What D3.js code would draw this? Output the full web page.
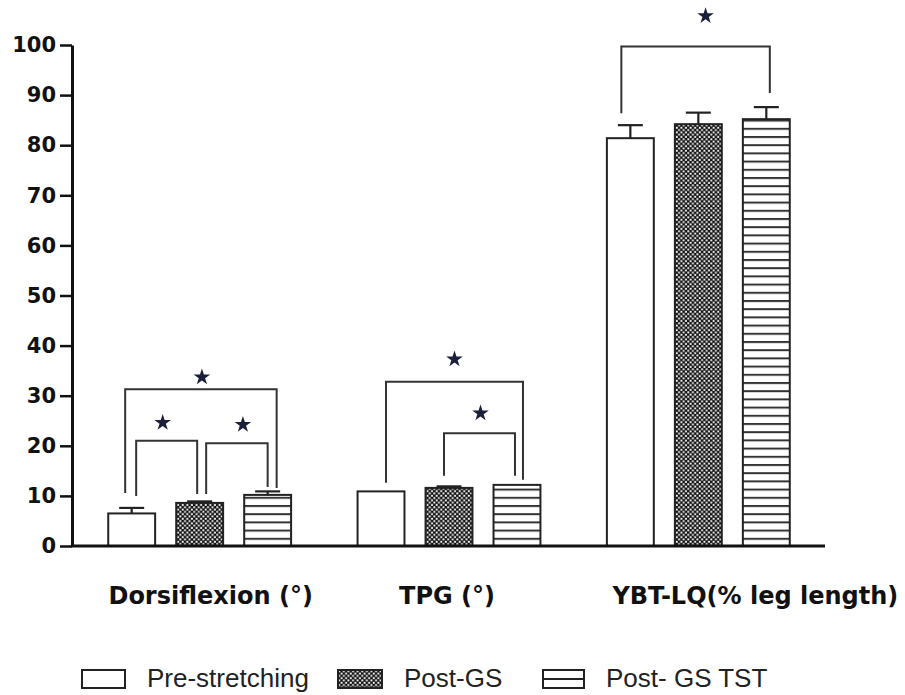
<!DOCTYPE html>
<html>
<head>
<meta charset="utf-8">
<script src="https://cdn.jsdelivr.net/npm/d3@7"></script>
<style>
  body { margin: 0; background: #fff; }
  svg { display: block; }
  .tick text { font-family: "DejaVu Sans", Verdana, sans-serif; font-weight: bold; font-size: 21px; fill: #111; }
  .glabel { font-family: "DejaVu Sans", Verdana, sans-serif; font-weight: bold; font-size: 24px; fill: #111; }
  .legend text { font-family: "Liberation Sans", Arial, sans-serif; font-size: 26px; fill: #222; }
</style>
</head>
<body>
<svg id="chart" width="905" height="695"></svg>
<script>
// values
var groups = ["Dorsiflexion (°)", "TPG (°)", "YBT-LQ(% leg length)"];
var series = ["Pre-stretching", "Post-GS", "Post- GS TST"];
var means = [
  [6.5, 8.6, 10.2],
  [10.9, 11.6, 12.2],
  [81.4, 84.2, 85.2]
];
var errs = [
  [1.1, 0.3, 0.7],
  [0, 0.3, 0],
  [2.6, 2.3, 2.4]
];
var yTicks = [0, 10, 20, 30, 40, 50, 60, 70, 80, 90, 100];

// significance brackets: group, from bar, to bar, top level, leg ends, star level
var brackets = [
  { g: 0, a: 0, b: 2, top: 31.3, endA: 10.6, endB: 11.6, star: 33.7 },
  { g: 0, a: 0, b: 1, top: 21.0, endA: 10.0, endB: 10.4, star: 24.6 },
  { g: 0, a: 1, b: 2, top: 20.5, endA: 10.4, endB: 11.8, star: 24.2 },
  { g: 1, a: 0, b: 2, top: 32.8, endA: 12.6, endB: 13.2, star: 37.3 },
  { g: 1, a: 1, b: 2, top: 22.5, endA: 14.0, endB: 14.0, star: 26.5 },
  { g: 2, a: 0, b: 2, top: 99.7, endA: 86.4, endB: 90.4, star: 105.8 }
];

// layout tweaks (px)
var bracketDx = [[-6.5, 9], [4.5, -2.5], [6.5, 0], [5, 6], [-5, -2], [-9, 3.5]];
var starDx = [1, -4, 6, 0, 1, 10];
var labelDx = [11, -2, 57];

var svg = d3.select("#chart");
var ink = "#222";

var y = d3.scaleLinear().domain([0, 100]).range([546, 45]);
var x0 = d3.scaleBand().domain(groups).range([75, 823]).paddingInner(0.0975).paddingOuter(0.04875);
var x1 = d3.scaleBand().domain(series).range([0, x0.bandwidth()]).padding(0.31);

// patterns
var defs = svg.append("defs");
var chk = defs.append("pattern").attr("id", "checker")
  .attr("patternUnits", "userSpaceOnUse").attr("width", 4.6).attr("height", 4.6);
chk.append("rect").attr("width", 4.6).attr("height", 4.6).attr("fill", "#111");
chk.append("rect").attr("x", 0.3).attr("y", 0.3).attr("width", 1.9).attr("height", 1.9).attr("fill", "#fff");
chk.append("rect").attr("x", 2.6).attr("y", 2.6).attr("width", 1.9).attr("height", 1.9).attr("fill", "#fff");

var hl = defs.append("pattern").attr("id", "hlines")
  .attr("patternUnits", "userSpaceOnUse").attr("width", 10).attr("height", 8.2).attr("y", 546);
hl.append("rect").attr("width", 10).attr("height", 8.2).attr("fill", "#fff");
hl.append("rect").attr("y", 0).attr("width", 10).attr("height", 2).attr("fill", "#333");

var fills = ["#fff", "url(#checker)", "url(#hlines)"];

// bars
var gGroups = svg.append("g").selectAll("g")
  .data(groups)
  .join("g")
    .attr("transform", d => `translate(${x0(d)},0)`);

gGroups.selectAll("rect")
  .data((d, gi) => series.map((s, si) => ({ s: s, si: si, v: means[gi][si], e: errs[gi][si] })))
  .join("rect")
    .attr("x", d => x1(d.s))
    .attr("y", d => y(d.v))
    .attr("width", x1.bandwidth())
    .attr("height", d => y(0) - y(d.v))
    .attr("fill", d => fills[d.si])
    .attr("stroke", ink)
    .attr("stroke-width", 2);

// error bars
var eb = gGroups.selectAll("g.err")
  .data((d, gi) => series.map((s, si) => ({ s: s, v: means[gi][si], e: errs[gi][si] })).filter(d => d.e > 0))
  .join("g").attr("class", "err")
    .attr("stroke", ink).attr("stroke-width", 2.2);
eb.append("line")
  .attr("x1", d => x1(d.s) + x1.bandwidth() / 2)
  .attr("x2", d => x1(d.s) + x1.bandwidth() / 2)
  .attr("y1", d => y(d.v))
  .attr("y2", d => y(d.v + d.e));
eb.append("line")
  .attr("x1", d => x1(d.s) + x1.bandwidth() / 2 - 12.5)
  .attr("x2", d => x1(d.s) + x1.bandwidth() / 2 + 12.5)
  .attr("y1", d => y(d.v + d.e))
  .attr("y2", d => y(d.v + d.e));

// brackets
function barX(g, s) { return x0(groups[g]) + x1(series[s]) + x1.bandwidth() / 2; }

svg.append("g").selectAll("path")
  .data(brackets)
  .join("path")
    .attr("fill", "none")
    .attr("stroke", "#333")
    .attr("stroke-width", 2)
    .attr("d", (d, i) => {
      var xa = barX(d.g, d.a) + bracketDx[i][0];
      var xb = barX(d.g, d.b) + bracketDx[i][1];
      return `M${xa},${y(d.endA)}V${y(d.top)}H${xb}V${y(d.endB)}`;
    });

svg.append("g").selectAll("path")
  .data(brackets)
  .join("path")
    .attr("d", d3.symbol(d3.symbolStar, 85))
    .attr("fill", "#1c1f3a")
    .attr("transform", (d, i) => {
      var xm = (barX(d.g, d.a) + bracketDx[i][0] + barX(d.g, d.b) + bracketDx[i][1]) / 2 + starDx[i];
      return `translate(${xm},${y(d.star)})`;
    });

// y axis
var yAxis = svg.append("g")
  .attr("transform", "translate(72,0)")
  .call(d3.axisLeft(y).tickValues(yTicks).tickSize(12).tickSizeOuter(0).tickPadding(4));
yAxis.select(".domain").attr("stroke", "#111").attr("stroke-width", 3);
yAxis.selectAll(".tick line").attr("stroke", "#111").attr("stroke-width", 2.5);

// x axis baseline
svg.append("line")
  .attr("x1", 71).attr("x2", 825)
  .attr("y1", y(0)).attr("y2", y(0))
  .attr("stroke", "#111").attr("stroke-width", 3);

// group labels
svg.append("g").selectAll("text")
  .data(groups)
  .join("text")
    .attr("class", "glabel")
    .attr("x", (d, i) => x0(d) + x0.bandwidth() / 2 + labelDx[i])
    .attr("y", 604)
    .attr("text-anchor", "middle")
    .text(d => d);

// legend
var legX = [82, 338, 543];
var legW = [43, 44, 41];
var leg = svg.append("g").attr("class", "legend").selectAll("g")
  .data(series)
  .join("g")
    .attr("transform", (d, i) => `translate(${legX[i]},670)`);
leg.append("rect")
  .attr("width", (d, i) => legW[i])
  .attr("height", 18)
  .attr("fill", (d, i) => i === 1 ? "url(#checker)" : "#fff")
  .attr("stroke", ink)
  .attr("stroke-width", 2);
leg.filter((d, i) => i === 2).append("line")
  .attr("x1", 0).attr("x2", legW[2])
  .attr("y1", 9).attr("y2", 9)
  .attr("stroke", ink).attr("stroke-width", 2);
leg.append("text")
  .attr("x", (d, i) => legW[i] + 22)
  .attr("y", 17)
  .text(d => d);
</script>
</body>
</html>
